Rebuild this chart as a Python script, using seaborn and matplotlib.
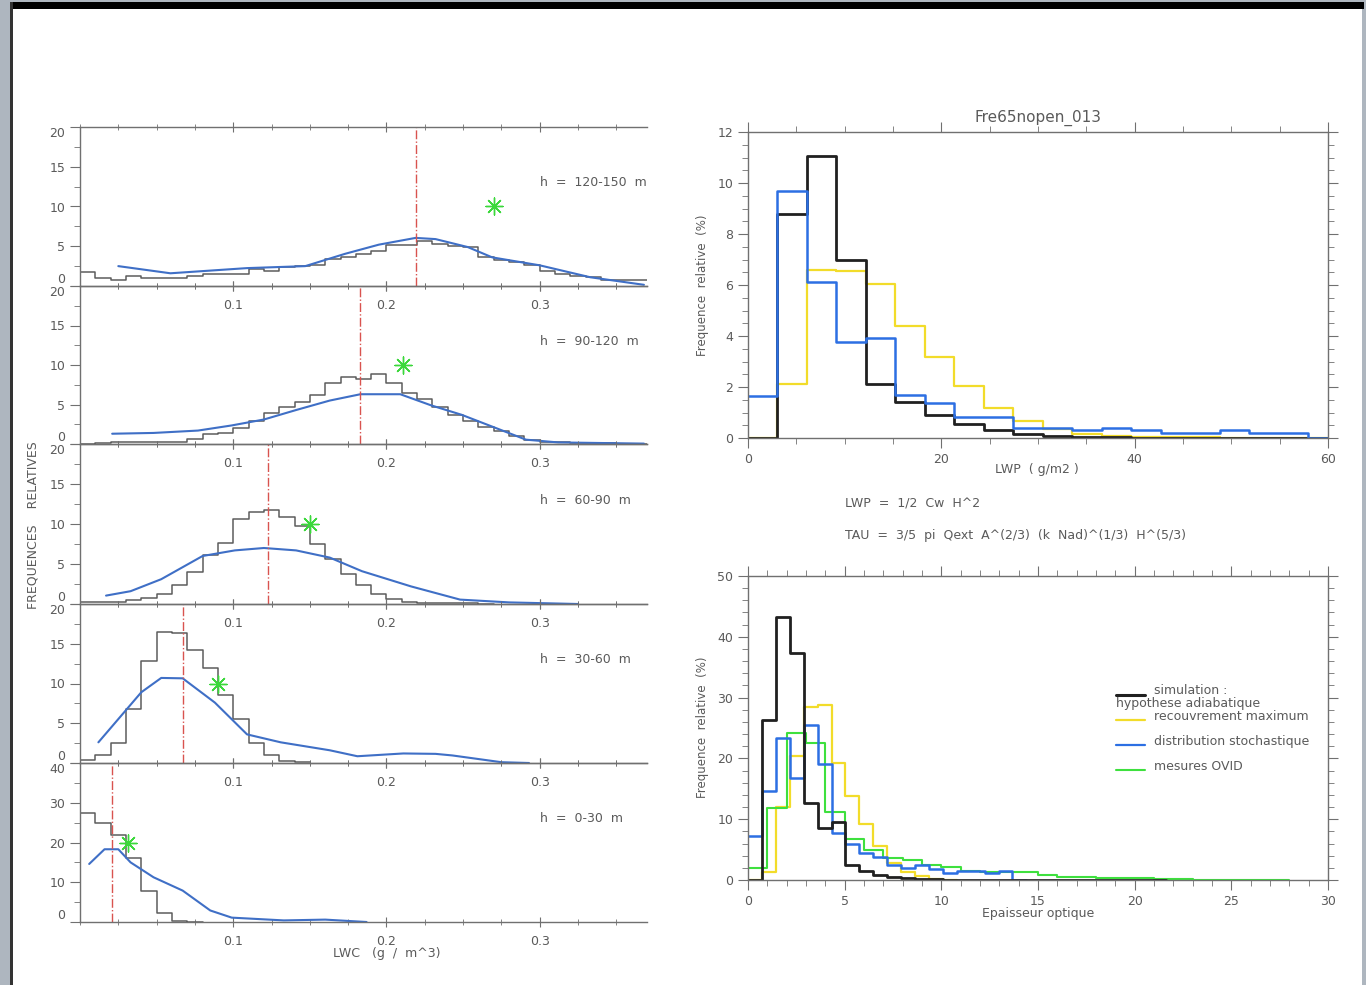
import numpy as np
import pandas as pd
import matplotlib
matplotlib.use("Agg")
import matplotlib.pyplot as plt
from matplotlib.ticker import MultipleLocator, FixedLocator
from matplotlib.patches import Rectangle
import seaborn as sns

# ---------------- data ----------------
# Left column: LWC histograms (bin width 0.01 g/m3), model curve, median, observation
lwc_bin_width = 0.01
height_labels = ["h  =  120-150  m", "h  =  90-120  m", "h  =  60-90  m",
                 "h  =  30-60  m", "h  =  0-30  m"]
hist_120_150 = [1.7, 1.0, 0.8, 1.2, 1.0, 1.0, 1.0, 1.3, 1.55, 1.55, 1.55, 2.1, 1.9, 2.4,
                2.5, 2.7, 3.4, 3.6, 4.0, 4.4, 5.1, 5.1, 5.6, 5.3, 5.0, 4.9, 3.6, 3.3,
                3.0, 2.7, 1.9, 1.55, 1.25, 1.1, 0.8, 0.7, 0.7]
hist_90_120 = [0.05, 0.1, 0.2, 0.2, 0.25, 0.3, 0.3, 0.6, 1.25, 1.4, 2.0, 2.85, 3.9, 4.7,
               5.35, 6.2, 7.75, 8.5, 8.2, 8.8, 7.75, 6.4, 5.65, 4.7, 3.7, 2.85, 2.2, 1.6,
               1.05, 0.55, 0.3, 0.2, 0.15, 0.1, 0.1, 0.05, 0.05]
hist_60_90 = [0.2, 0.2, 0.2, 0.45, 0.75, 1.3, 2.4, 4.0, 6.1, 7.6, 10.6, 11.5, 11.75, 10.9,
              9.75, 7.5, 5.65, 3.7, 2.4, 1.3, 0.6, 0.25, 0.1, 0.1, 0.1, 0.1, 0.05]
hist_30_60 = [0.35, 1.0, 2.5, 6.8, 12.85, 16.5, 16.3, 14.2, 12.0, 8.5, 5.5, 2.5, 1.05,
              0.2, 0.1]
hist_0_30 = [27.3, 25.0, 21.8, 16.0, 7.7, 2.25, 0.2, 0.05]

curve_120_150_x = [0.025, 0.059, 0.109, 0.147, 0.173, 0.195, 0.219, 0.232, 0.253, 0.269,
                   0.30, 0.333, 0.368]
curve_120_150_y = [2.5, 1.6, 2.25, 2.5, 4.05, 5.2, 6.05, 5.9, 4.9, 3.6, 2.6, 1.1, 0.15]
curve_90_120_x = [0.021, 0.048, 0.077, 0.099, 0.12, 0.141, 0.163, 0.183, 0.209, 0.229,
                  0.249, 0.269, 0.291, 0.312, 0.368]
curve_90_120_y = [1.3, 1.4, 1.7, 2.35, 3.1, 4.3, 5.5, 6.3, 6.3, 4.9, 3.7, 2.2, 0.55, 0.2, 0.05]
curve_60_90_x = [0.017, 0.033, 0.053, 0.08, 0.101, 0.12, 0.141, 0.163, 0.184, 0.216,
                 0.248, 0.28, 0.325]
curve_60_90_y = [1.05, 1.6, 3.1, 6.0, 6.7, 7.0, 6.7, 5.8, 4.1, 2.2, 0.55, 0.2, 0.0]
curve_30_60_x = [0.012, 0.04, 0.053, 0.067, 0.088, 0.109, 0.131, 0.163, 0.181, 0.211,
                 0.232, 0.243, 0.275, 0.293]
curve_30_60_y = [2.6, 8.9, 10.7, 10.65, 7.6, 3.6, 2.6, 1.6, 0.85, 1.2, 1.15, 0.95, 0.1, 0.0]
curve_0_30_x = [0.006, 0.016, 0.025, 0.033, 0.048, 0.067, 0.085, 0.099, 0.133, 0.16, 0.187]
curve_0_30_y = [14.6, 18.3, 18.3, 15.0, 11.25, 7.9, 2.9, 1.1, 0.4, 0.6, 0.0]

medians_lwc = [0.219, 0.183, 0.123, 0.067, 0.021]
obs_lwc_x = [0.270, 0.211, 0.150, 0.090, 0.031]
obs_lwc_y = [10, 10, 10, 10, 20]
ymax_left = [20, 20, 20, 20, 40]

# Right top: LWP histograms (bin width 3.05 g/m2)
lwp_bin_width = 3.05
lwp_adiabatic = [0, 8.8, 11.05, 7.0, 2.1, 1.43, 0.9, 0.55, 0.33, 0.17, 0.07, 0.04, 0.02,
                 0.01, 0.01, 0.01, 0.01, 0.0, 0.0, 0.0]
lwp_max_overlap = [0, 2.13, 6.6, 6.53, 6.04, 4.4, 3.16, 2.04, 1.17, 0.66, 0.36, 0.17, 0.06,
                   0.03, 0.02, 0.02, 0.01, 0.0, 0.0, 0.0]
lwp_stochastic = [1.65, 9.7, 6.13, 3.78, 3.91, 1.68, 1.37, 0.81, 0.81, 0.4, 0.4, 0.3, 0.4,
                  0.3, 0.19, 0.19, 0.32, 0.2, 0.2, 0.0]

# Right bottom: optical thickness histograms
tau_bin_width = 0.72
tau_obs_bin_width = 1.0
tau_adiabatic = [0, 26.3, 43.3, 37.4, 12.6, 8.6, 9.5, 2.4, 1.45, 0.9, 0.43, 0.27, 0.16,
                 0.1, 0.08, 0.06, 0.05, 0.05, 0.04, 0.04, 0.03, 0.03, 0.03, 0.02, 0.02,
                 0.02, 0.02, 0.02, 0.01, 0.01]
tau_max_overlap = [0, 1.3, 12.0, 20.4, 28.4, 28.8, 19.3, 13.8, 9.2, 5.6, 2.85, 1.35, 0.7,
                   0.2, 0.0]
tau_stochastic = [7.2, 14.6, 23.3, 16.8, 25.5, 19.1, 7.8, 5.9, 4.5, 3.75, 2.5, 1.9, 2.5,
                  1.8, 1.1, 1.5, 1.5, 1.1, 1.45, 0.0]
tau_ovid = [1.9, 11.8, 24.2, 22.5, 11.25, 6.7, 4.9, 3.6, 3.3, 2.5, 2.1, 1.5, 1.35, 1.35,
            1.35, 0.9, 0.55, 0.45, 0.35, 0.3, 0.25, 0.15, 0.1, 0.08, 0.06, 0.05, 0.04, 0.03]

legend_labels = ["simulation :", "hypothese adiabatique", "recouvrement maximum",
                 "distribution stochastique", "mesures OVID"]

# ---------------- style ----------------
sns.set_style("white")
plt.rcParams["font.family"] = ["DejaVu Sans"]
TXT = "#5a5a5a"
AX = "#707070"
plt.rcParams.update({
    "axes.edgecolor": AX, "xtick.color": AX, "ytick.color": AX,
    "xtick.labelcolor": TXT, "ytick.labelcolor": TXT, "text.color": TXT,
    "axes.labelcolor": TXT, "font.size": 9,
})

C_HIST = "#5c5c5c"
C_CURVE = "#3f6fc6"
C_MED = "#d9534f"
C_STAR = "#3bd83b"
C_BLACK = "#202020"
C_YEL = "#f2dc2a"
C_BLUE = "#2c6fe3"
C_GREEN = "#3ee03e"

W, H = 1366, 985
fig = plt.figure(figsize=(W / 100, H / 100), dpi=100, facecolor="#aeb6bf")
fig.patches.append(Rectangle((12 / W, 0), (1362 - 12) / W, (985 - 8) / H,
                             transform=fig.transFigure, facecolor="white",
                             edgecolor="none", zorder=-2))
fig.patches.append(Rectangle((10 / W, 1 - 9 / H), (1364 - 10) / W, 7 / H,
                             transform=fig.transFigure, facecolor="black",
                             edgecolor="none", zorder=-1))
fig.patches.append(Rectangle((10 / W, 0), 2.5 / W, 1 - 2 / H,
                             transform=fig.transFigure, facecolor="#333333",
                             edgecolor="none", zorder=-1))


def fx(px):
    return px / W


def fy(py):
    return 1 - py / H


def step_hist(ax, values, width, color, lw):
    n = len(values)
    edges = [k * width for k in range(n + 1)]
    df = pd.DataFrame({"x": [e + width / 2 for e in edges[:-1]], "w": list(values)})
    sns.histplot(data=df, x="x", weights="w", bins=edges, element="step", fill=False,
                 color=color, linewidth=lw, ax=ax)


# ---------------- left column ----------------
hists = [hist_120_150, hist_90_120, hist_60_90, hist_30_60, hist_0_30]
curves = [(curve_120_150_x, curve_120_150_y), (curve_90_120_x, curve_90_120_y),
          (curve_60_90_x, curve_60_90_y), (curve_30_60_x, curve_30_60_y),
          (curve_0_30_x, curve_0_30_y)]
tops = [127, 286, 444, 604, 763]
bots = [286, 444, 604, 763, 922]
x_left, x_right = 80, 647

for i in range(5):
    ax = fig.add_axes([fx(x_left), fy(bots[i]), fx(x_right - x_left),
                       (bots[i] - tops[i]) / H])
    ax.set_facecolor("none")
    step_hist(ax, hists[i], lwc_bin_width, C_HIST, 1.1)
    sns.lineplot(x=curves[i][0], y=curves[i][1], color=C_CURVE, linewidth=1.5, ax=ax)
    ax.axvline(medians_lwc[i], color=C_MED, linestyle="-.", linewidth=1.0)
    ax.scatter([obs_lwc_x[i]], [obs_lwc_y[i]], marker=(8, 2, 0), s=150,
               color=C_STAR, linewidths=1.0, zorder=5)
    ymax = ymax_left[i]
    ax.text(0.3, ymax * 0.65, height_labels[i], ha="left", va="center",
            fontsize=9, color=TXT)
    ax.set_xlim(0, 0.37)
    ax.set_ylim(0, ymax)
    ax.xaxis.set_major_locator(FixedLocator([0.1, 0.2, 0.3]))
    ax.xaxis.set_minor_locator(MultipleLocator(0.025))
    ax.yaxis.set_major_locator(FixedLocator([0, ymax / 4, ymax / 2, 3 * ymax / 4, ymax]))
    ax.yaxis.set_minor_locator(MultipleLocator(ymax / 8))
    ax.set_xticklabels(["0.1", "0.2", "0.3"])
    ax.set_yticklabels([f"{v:g}" for v in [0, ymax / 4, ymax / 2, 3 * ymax / 4, ymax]])
    yt = ax.yaxis.get_major_ticks()
    yt[0].label1.set_verticalalignment("bottom")
    yt[-1].label1.set_verticalalignment("top")
    ax.tick_params(axis="x", which="both", direction="inout", top=True, bottom=True,
                   pad=6)
    ax.tick_params(axis="x", which="major", length=7)
    ax.tick_params(axis="x", which="minor", length=5)
    ax.tick_params(axis="y", which="both", direction="out", left=True)
    ax.tick_params(axis="y", which="major", length=7)
    ax.tick_params(axis="y", which="minor", length=4)
    ax.spines["right"].set_visible(False)
    for s in ["left", "top", "bottom"]:
        ax.spines[s].set_linewidth(1.0)
    ax.set_xlabel("")
    ax.set_ylabel("")

fig.text(fx(33), fy(525), "FREQUENCES    RELATIVES", rotation=90, ha="center",
         va="center", fontsize=9, color=TXT)
fig.text(fx(387), fy(953), "LWC   (g  /  m^3)", ha="center", va="center",
         fontsize=9, color=TXT)


def style_right(ax, xmaj, xmin, ymaj, ymin):
    ax.xaxis.set_major_locator(MultipleLocator(xmaj))
    ax.xaxis.set_minor_locator(MultipleLocator(xmin))
    ax.yaxis.set_major_locator(MultipleLocator(ymaj))
    ax.yaxis.set_minor_locator(MultipleLocator(ymin))
    ax.tick_params(which="both", direction="out", top=True, right=True,
                   bottom=True, left=True)
    ax.tick_params(which="major", length=7)
    ax.tick_params(which="minor", length=4)
    for s in ax.spines.values():
        s.set_linewidth(1.0)
        s.set_visible(True)
    ax.set_xlabel("")
    ax.set_ylabel("")


# ---------------- right top ----------------
ax1 = fig.add_axes([fx(748), fy(438), fx(1328 - 748), (438 - 132) / H])
step_hist(ax1, lwp_max_overlap, lwp_bin_width, C_YEL, 1.6)
step_hist(ax1, lwp_adiabatic, lwp_bin_width, C_BLACK, 2.0)
step_hist(ax1, lwp_stochastic, lwp_bin_width, C_BLUE, 1.8)
ax1.set_xlim(0, 60)
ax1.set_ylim(0, 12)
style_right(ax1, 20, 5, 2, 0.5)
ax1.set_title("Fre65nopen_013", fontsize=11, color=TXT, pad=7)
fig.text(fx(1037), fy(470), "LWP  ( g/m2 )", ha="center", va="center", fontsize=9)
fig.text(fx(703), fy(285), "Frequence  relative  (%)", rotation=90, ha="center",
         va="center", fontsize=8.5)

fig.text(fx(845), fy(504), "LWP  =  1/2  Cw  H^2", ha="left", va="center", fontsize=9)
fig.text(fx(845), fy(536),
         "TAU  =  3/5  pi  Qext  A^(2/3)  (k  Nad)^(1/3)  H^(5/3)",
         ha="left", va="center", fontsize=9)

# ---------------- right bottom ----------------
ax2 = fig.add_axes([fx(748), fy(880), fx(1328 - 748), (880 - 576) / H])
step_hist(ax2, tau_max_overlap, tau_bin_width, C_YEL, 1.6)
step_hist(ax2, tau_ovid, tau_obs_bin_width, C_GREEN, 1.5)
step_hist(ax2, tau_stochastic, tau_bin_width, C_BLUE, 1.8)
step_hist(ax2, tau_adiabatic, tau_bin_width, C_BLACK, 2.0)
ax2.set_xlim(0, 30)
ax2.set_ylim(0, 50)
style_right(ax2, 5, 1, 10, 2)
fig.text(fx(1038), fy(913), "Epaisseur optique", ha="center", va="center", fontsize=9)
fig.text(fx(703), fy(727), "Frequence  relative  (%)", rotation=90, ha="center",
         va="center", fontsize=8.5)

# legend drawn inside the lower-right axes
leg_colors = [C_BLACK, None, C_YEL, C_BLUE, C_GREEN]
leg_widths = [2.2, 0, 1.6, 1.6, 1.5]
leg_text_y = [0.622, 0.582, 0.539, 0.457, 0.375]
for lab, col, lw, ty in zip(legend_labels, leg_colors, leg_widths, leg_text_y):
    if col is None:
        ax2.text(0.634, ty, lab, transform=ax2.transAxes, ha="left", va="center",
                 fontsize=9, color=TXT)
    else:
        ax2.plot([0.634, 0.684], [ty - 0.012, ty - 0.012], transform=ax2.transAxes,
                 color=col, linewidth=lw)
        ax2.text(0.700, ty, lab, transform=ax2.transAxes, ha="left", va="center",
                 fontsize=9, color=TXT)

fig.savefig("out.png", dpi=100, facecolor=fig.get_facecolor())
